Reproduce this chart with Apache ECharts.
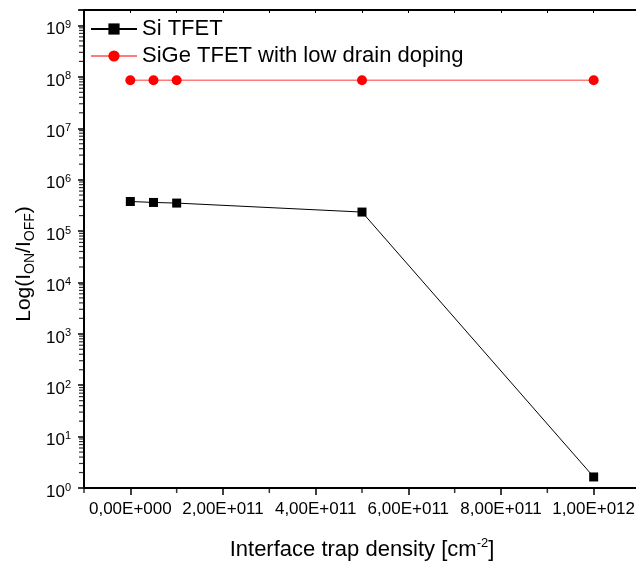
<!DOCTYPE html>
<html>
<head>
<meta charset="utf-8">
<script src="https://cdn.jsdelivr.net/npm/echarts@6/dist/echarts.min.js"></script>
<style>
  html, body { margin: 0; padding: 0; background: #fff; }
  #chart { width: 636px; height: 561px; }
</style>
</head>
<body>
<div id="chart"></div>
<script>
// Interface trap density (cm^-2) and on/off current ratio for both devices
const trapDensity = [0, 5e10, 1e11, 5e11, 1e12];
const siTfet = [3.76e5, 3.6e5, 3.5e5, 2.34e5, 1.64];
const siGeTfet = [8.6e7, 8.6e7, 8.6e7, 8.6e7, 8.6e7];

// Axis ticks and labels
const xMajorTicks = [0, 2e11, 4e11, 6e11, 8e11, 1e12];
const xTickLabels = ['0,00E+000', '2,00E+011', '4,00E+011', '6,00E+011', '8,00E+011', '1,00E+012'];
const xMinorTicks = [-1e11, 1e11, 3e11, 5e11, 7e11, 9e11];
const yDecades = [1, 10, 100, 1e3, 1e4, 1e5, 1e6, 1e7, 1e8, 1e9];
const yExponents = ['0', '1', '2', '3', '4', '5', '6', '7', '8', '9'];

const FONT = 'Liberation Sans, Arial, Helvetica, sans-serif';
const X_MIN = -1e11, X_MAX = 1.1e12;
const Y_MIN = 1, Y_MAX = 2e9;

// log-spaced minor ticks (2..9 within each decade)
const yMinorTicks = [];
yDecades.slice(0, -1).forEach(d => {
  for (let k = 2; k <= 9; k++) yMinorTicks.push(k * d);
});
for (let k = 2; k * 1e9 <= Y_MAX; k++) yMinorTicks.push(k * 1e9);

const pairs = ys => trapDensity.map((x, i) => [x, ys[i]]);

// small tick marks drawn as symbols sitting on an axis line
const tickMarks = (data, size, offset) => ({
  type: 'scatter',
  xAxisIndex: 0, yAxisIndex: 0,
  data: data,
  symbol: 'rect',
  symbolSize: size,
  symbolOffset: offset,
  itemStyle: { color: '#000' },
  silent: true,
  clip: false,
  legendHoverLink: false,
  emphasis: { disabled: true },
  z: 1
});

const chart = echarts.init(document.getElementById('chart'), null, { renderer: 'canvas' });

chart.setOption({
  animation: false,
  backgroundColor: '#fff',
  textStyle: { fontFamily: FONT },
  grid: { left: 84, top: 10, width: 556, bottom: 73, containLabel: false, outerBoundsMode: 'none' },
  legend: {
    orient: 'vertical',
    left: 85,
    top: 13,
    itemWidth: 46,
    itemHeight: 14,
    itemGap: 5,
    textStyle: { fontFamily: FONT, fontSize: 22, color: '#000', lineHeight: 22 },
    data: ['Si TFET', 'SiGe TFET with low drain doping']
  },
  xAxis: [
    {
      type: 'value', position: 'bottom', min: X_MIN, max: X_MAX, interval: 1e11,
      axisLine: { show: true, onZero: false, lineStyle: { color: '#000', width: 2 } },
      axisTick: { show: true, customValues: xMajorTicks, length: 7, lineStyle: { color: '#000', width: 1.5 } },
      axisLabel: {
        customValues: xMajorTicks, margin: 13, color: '#000', fontFamily: FONT, fontSize: 17,
        formatter: v => { const i = xMajorTicks.indexOf(v); return i >= 0 ? xTickLabels[i] : ''; }
      },
      splitLine: { show: false },
      name: '{n|Interface trap density [cm}{s|-2}{n|]}',
      nameLocation: 'middle',
      nameGap: 49,
      nameMoveOverlap: false,
      nameTextStyle: {
        rich: {
          n: { fontFamily: FONT, fontSize: 22, color: '#000', lineHeight: 25 },
          s: { fontFamily: FONT, fontSize: 13, color: '#000', lineHeight: 13, verticalAlign: 'top' }
        }
      }
    },
    {
      type: 'value', position: 'top', min: X_MIN, max: X_MAX, interval: 1e11,
      axisLine: { show: true, onZero: false, lineStyle: { color: '#000', width: 2 } },
      axisTick: { show: true, inside: true, length: 3, lineStyle: { color: '#000', width: 1 } },
      axisLabel: { show: false },
      splitLine: { show: false }
    }
  ],
  yAxis: [
    {
      type: 'log', logBase: 10, position: 'left', min: Y_MIN, max: Y_MAX,
      axisLine: { show: true, onZero: false, lineStyle: { color: '#000', width: 2 } },
      axisTick: { show: true, length: 6, lineStyle: { color: '#000', width: 1.5 } },
      axisLabel: {
        margin: 13,
        padding: [8, 0, 0, 0],
        formatter: v => {
          const i = yDecades.findIndex(d => Math.abs(d - v) / d < 1e-6);
          return i >= 0 ? '{b|10}{e|' + yExponents[i] + '}' : '';
        },
        rich: {
          b: { fontFamily: FONT, fontSize: 17, color: '#000', lineHeight: 20 },
          e: { fontFamily: FONT, fontSize: 11, color: '#000', lineHeight: 11, verticalAlign: 'top' }
        }
      },
      splitLine: { show: false },
      minorTick: { show: false },
      name: '{n|Log(I}{s|ON}{n|/I}{s|OFF}{n|)}',
      nameLocation: 'middle',
      nameGap: 47,
      nameMoveOverlap: false,
      nameTextStyle: {
        padding: [0, 30, 0, 0],
        rich: {
          n: { fontFamily: FONT, fontSize: 21, color: '#000', lineHeight: 26 },
          s: { fontFamily: FONT, fontSize: 14, color: '#000', lineHeight: 14, verticalAlign: 'bottom' }
        }
      }
    }
  ],
  series: [
    // minor ticks: log-spaced on the left axis, odd multiples of 1e11 below the bottom axis
    tickMarks(yMinorTicks.map(v => [X_MIN, v]), [4, 1.2], [-3, 0]),
    tickMarks(xMinorTicks.map(v => [v, Y_MIN]), [1.5, 4], [0, 3]),
    {
      name: 'Si TFET',
      type: 'line',
      xAxisIndex: 0, yAxisIndex: 0,
      data: pairs(siTfet),
      symbol: 'rect',
      symbolSize: 9,
      lineStyle: { color: '#000', width: 1 },
      itemStyle: { color: '#000' },
      z: 3
    },
    {
      name: 'SiGe TFET with low drain doping',
      type: 'line',
      xAxisIndex: 0, yAxisIndex: 0,
      data: pairs(siGeTfet),
      symbol: 'circle',
      symbolSize: 10,
      lineStyle: { color: '#ff7a7a', width: 1.5 },
      itemStyle: { color: '#ff0000' },
      z: 3
    }
  ]
});
</script>
</body>
</html>
